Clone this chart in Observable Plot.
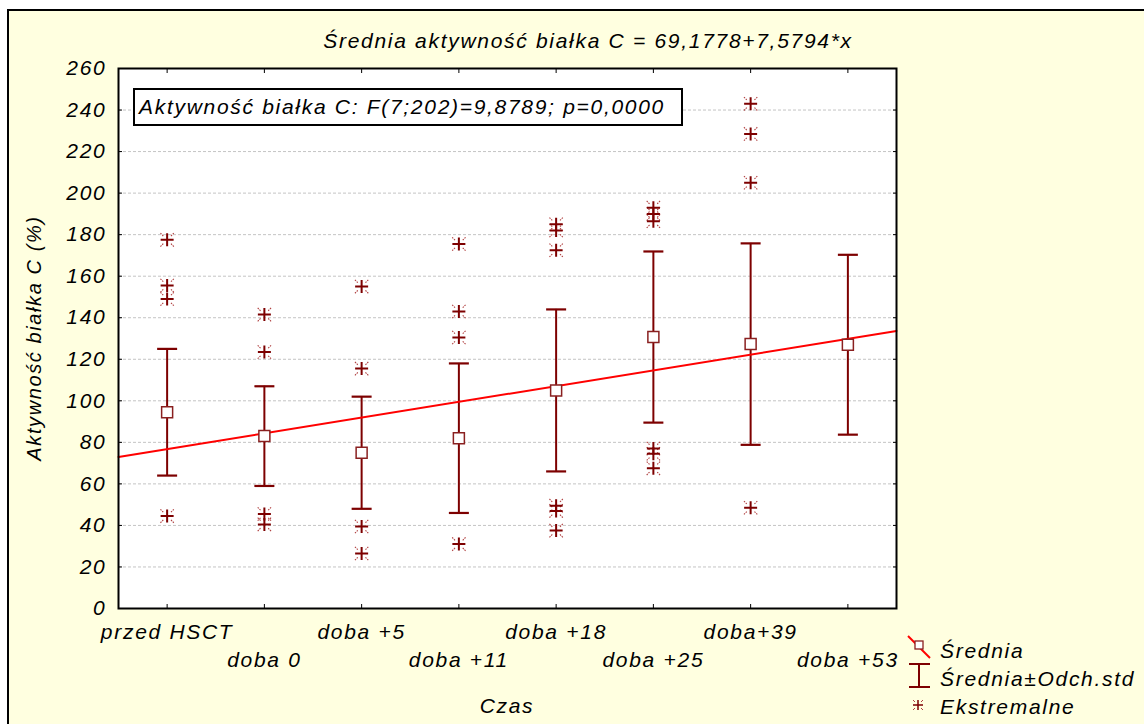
<!DOCTYPE html>
<html><head><meta charset="utf-8">
<script src="https://cdn.jsdelivr.net/npm/d3@7"></script>
<script src="https://cdn.jsdelivr.net/npm/@observablehq/plot@0.6"></script>
<style>
body{margin:0;background:#fff;}
#wrap{position:relative;width:1144px;height:724px;overflow:hidden;background:#fff;font-family:"Liberation Sans",Arial,sans-serif;font-style:italic;}
#bg{position:absolute;left:7px;top:9px;width:1200px;height:800px;background:#FFFFE0;border-left:2px solid #000;border-top:2px solid #000;}
#chart{position:absolute;left:0;top:0;}
.t{position:absolute;font-size:21px;letter-spacing:1.7px;color:#000;white-space:nowrap;line-height:1;}
#stats{position:absolute;left:133px;top:88px;width:546px;height:34px;border:2px solid #000;background:#fff;}
#legend{position:absolute;left:0;top:0;}
</style></head>
<body><div id="wrap"><div id="bg"></div><div id="chart"></div>
<div id="stats"></div>
<div class="t" id="statsText" style="left:139px;top:106px;transform:translateY(-50%)">Aktywność białka C: F(7;202)=9,8789; p=0,0000</div>
<div class="t" id="title" style="left:588px;top:40px;transform:translate(-50%,-50%)">Średnia aktywność białka C = 69,1778+7,5794*x</div>
<div class="t" id="ylab" style="left:34px;top:338px;font-size:20px;letter-spacing:1.6px;transform:translate(-50%,-50%) rotate(-90deg)">Aktywność białka C (%)</div>
<div class="t" id="xlab" style="left:507px;top:705px;transform:translate(-50%,-50%)">Czas</div>
<svg id="legend" width="1144" height="724"></svg>
<div class="t" style="left:940px;top:650px;transform:translateY(-50%)">Średnia</div>
<div class="t" style="left:940px;top:678px;transform:translateY(-50%)">Średnia±Odch.std</div>
<div class="t" style="left:940px;top:706px;transform:translateY(-50%)">Ekstremalne</div>
</div>
<script>
const categories = ["przed HSCT","doba 0","doba +5","doba +11","doba +18","doba +25","doba+39","doba +53"];
const means = [94.5, 83, 75, 82, 105, 130.7, 127.3, 127];
const sds = [30.5, 24, 27, 36, 39, 41.2, 48.5, 43.3];
const extremes = [
  [177.5, 155.5, 149, 44.5],
  [141.5, 123.5, 45.5, 40.5],
  [155, 115.5, 39.5, 26.5],
  [175.5, 143, 130.5, 31],
  [185, 182, 172.5, 49.5, 47, 37.5],
  [193, 190, 186.5, 77, 74.5, 67.5],
  [243, 228.5, 205, 48.5],
  []
];
const yTicks = [0,20,40,60,80,100,120,140,160,180,200,220,240,260];
const intercept = 69.1778, slope = 7.5794;

const stats = categories.map((c,i)=>({i:i+1, c, mean:means[i], lo:means[i]-sds[i], hi:means[i]+sds[i]}));
const ext = extremes.flatMap((arr,i)=>arr.map(v=>({i:i+1, v})));
const xDomain = [0.5, 8.5];
const reg = xDomain.map(x=>({x, y: intercept + slope*x}));
const idx = categories.map((c,i)=>i+1);

const symPlus = {draw(ctx,size){const r=Math.sqrt(size/Math.PI);ctx.moveTo(-r,0);ctx.lineTo(r,0);ctx.moveTo(0,-r);ctx.lineTo(0,r);}};
const symCorners = {draw(ctx,size){const r=Math.sqrt(size/Math.PI),a=r*0.55;for(const [sx,sy] of [[1,1],[1,-1],[-1,1],[-1,-1]]){ctx.moveTo(sx*a,sy*a);ctx.lineTo(sx*r,sy*r);}}};
const symSquare = {draw(ctx,size){const r=Math.sqrt(size/Math.PI);ctx.rect(-r,-r,2*r,2*r);}};
const symBar = {draw(ctx,size){const r=Math.sqrt(size/Math.PI);ctx.moveTo(-r,0);ctx.lineTo(r,0);}};

const dark = "#7d0000";
const chart = Plot.plot({
  width: 1144, height: 724,
  marginLeft: 118, marginRight: 248, marginTop: 68, marginBottom: 116,
  x: {domain: xDomain, label: null},
  y: {domain: [0,260], label: null},
  style: {fontFamily: "'Liberation Sans', Arial, sans-serif", fontStyle: "italic", letterSpacing: "1.7px", background: "transparent", overflow: "visible", color: "#000"},
  marks: [
    Plot.frame({fill: "white", stroke: null}),
    Plot.ruleY(yTicks.filter(d=>d>0 && d<260), {stroke: "#c4c4c4", strokeDasharray: "3,2", strokeWidth: 1}),
    Plot.ruleX(stats, {x: "i", y1: "lo", y2: "hi", stroke: dark, strokeWidth: 2}),
    Plot.dot(stats, {x: "i", y: "hi", symbol: symBar, r: 10, stroke: dark, strokeWidth: 2.2, fill: "none"}),
    Plot.dot(stats, {x: "i", y: "lo", symbol: symBar, r: 10, stroke: dark, strokeWidth: 2.2, fill: "none"}),
    Plot.line(reg, {x: "x", y: "y", stroke: "#ff0000", strokeWidth: 2}),
    Plot.dot(ext, {x: "i", y: "v", symbol: symCorners, r: 7, stroke: "#b04040", strokeWidth: 1.1, strokeDasharray: "1.5,1", fill: "none"}),
    Plot.dot(ext, {x: "i", y: "v", symbol: symPlus, r: 6.5, stroke: dark, strokeWidth: 2, fill: "none"}),
    Plot.dot(stats, {x: "i", y: "mean", symbol: symSquare, r: 5.5, stroke: "#8a2020", strokeWidth: 1.5, fill: "white"}),
    Plot.frame({stroke: "#000", strokeWidth: 2}),
    Plot.axisY({ticks: yTicks, tickSize: 0, tickPadding: 12, fontSize: 21, tickFormat: d => String(d)}),
    Plot.axisY({ticks: yTicks, tickSize: 4, text: null, dx: 4, stroke: "#000"}),
    Plot.axisY({anchor: "right", ticks: yTicks, tickSize: 4, text: null, dx: -4, stroke: "#000"}),
    Plot.axisX({ticks: idx, tickSize: 4, text: null, dy: -4, stroke: "#000"}),
    Plot.axisX({anchor: "top", ticks: idx, tickSize: 4, text: null, dy: 4, stroke: "#000"}),
    Plot.axisX({ticks: idx.filter(d=>d%2===1), tickSize: 0, tickPadding: 16, fontSize: 21, tickFormat: d => categories[d-1]}),
    Plot.axisX({ticks: idx.filter(d=>d%2===0), tickSize: 0, tickPadding: 44, fontSize: 21, tickFormat: d => categories[d-1]})
  ]
});
document.getElementById("chart").appendChild(chart);

// legend icons
const lg = d3.select("#legend");
lg.append("line").attr("x1",908).attr("y1",636).attr("x2",930).attr("y2",658).attr("stroke","#ff0000").attr("stroke-width",2);
lg.append("rect").attr("x",915).attr("y",641).attr("width",8).attr("height",8).attr("fill","#fff").attr("stroke","#8a2020").attr("stroke-width",1.3);
lg.append("line").attr("x1",919).attr("y1",664).attr("x2",919).attr("y2",687).attr("stroke",dark).attr("stroke-width",2);
lg.append("line").attr("x1",909).attr("y1",664).attr("x2",930).attr("y2",664).attr("stroke",dark).attr("stroke-width",2);
lg.append("line").attr("x1",909).attr("y1",687).attr("x2",930).attr("y2",687).attr("stroke",dark).attr("stroke-width",2);
lg.append("path").attr("d","M913,705H923M918,700V710").attr("stroke",dark).attr("stroke-width",1.5);
lg.append("path").attr("d","M913,700l2,2M923,700l-2,2M913,710l2,-2M923,710l-2,-2").attr("stroke","#b04040").attr("stroke-width",1);
</script>
</body></html>
